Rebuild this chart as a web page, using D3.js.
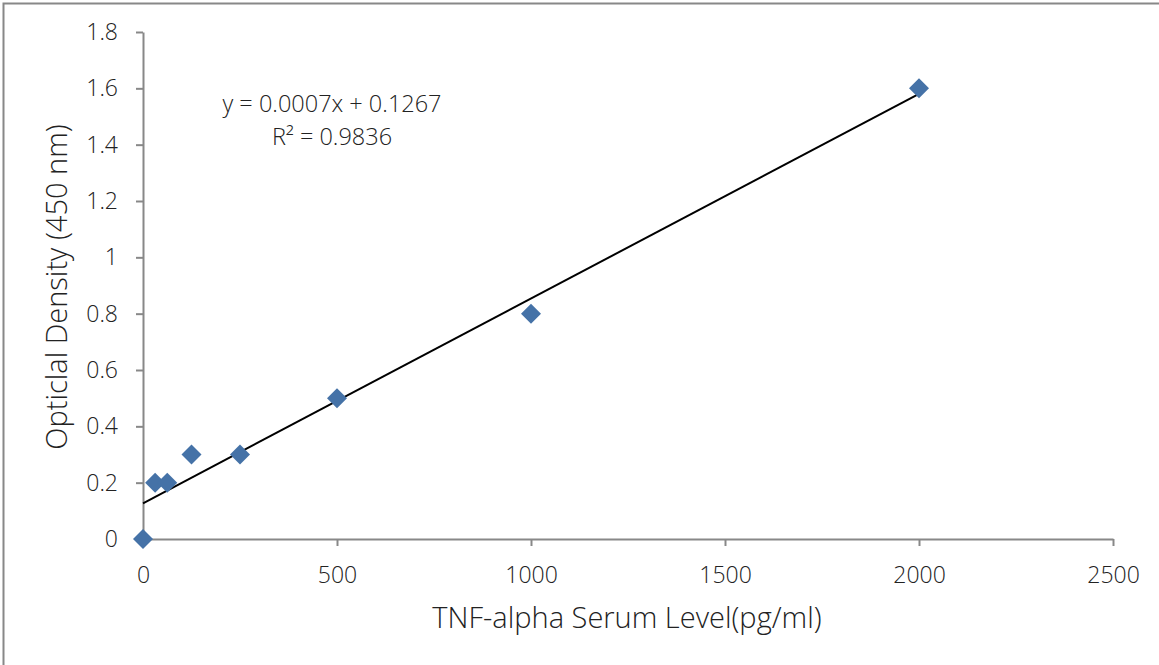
<!DOCTYPE html>
<html>
<head>
<meta charset="utf-8">
<script src="https://cdn.jsdelivr.net/npm/d3@7"></script>
<style>
  body { margin: 0; background: #fff; }
  svg text { font-family: "Open Sans", Lato, sans-serif; font-weight: 300; fill: #222; }
</style>
</head>
<body>
<svg id="chart" width="1159" height="665"></svg>
<script>
// standard curve data
var concentration = [0, 31.25, 62.5, 125, 250, 500, 1000, 2000];
var density = [0, 0.2, 0.2, 0.3, 0.3, 0.5, 0.8, 1.6];
var xTicks = [0, 500, 1000, 1500, 2000, 2500];
var yTicks = [0, 0.2, 0.4, 0.6, 0.8, 1, 1.2, 1.4, 1.6, 1.8];
var trendSlope = 0.000727;
var trendIntercept = 0.1267;
var trendRange = [0, 2000];
var equationLines = ["y = 0.0007x + 0.1267", "R\u00b2 = 0.9836"];

var svg = d3.select("#chart");
var plotLeft = 143, plotRight = 1113, plotTop = 32, plotBottom = 539;

// outer frame (only top/left visible)
svg.append("rect")
  .attr("x", 3.5).attr("y", 3.5)
  .attr("width", 1200).attr("height", 700)
  .attr("fill", "none").attr("stroke", "#888").attr("stroke-width", 2);

var x = d3.scaleLinear().domain([0, 2500]).range([plotLeft, plotRight]);
var y = d3.scaleLinear().domain([0, 1.8]).range([plotBottom, plotTop]);

var xAxis = svg.append("g")
  .attr("transform", "translate(0," + plotBottom + ")")
  .call(d3.axisBottom(x).tickValues(xTicks).tickSize(7).tickSizeOuter(0).tickPadding(21)
    .tickFormat(d3.format("d")));

var yAxis = svg.append("g")
  .attr("transform", "translate(" + plotLeft + ",0)")
  .call(d3.axisLeft(y).tickValues(yTicks).tickSize(7).tickSizeOuter(0).tickPadding(18)
    .tickFormat(function(d){ return String(+d.toFixed(1)); }));

[xAxis, yAxis].forEach(function(a){
  a.selectAll("path, line").attr("stroke", "#888").attr("stroke-width", 2);
  a.selectAll("text").style("font-size", "23px").attr("fill", "#222");
});

// trendline
svg.append("line")
  .attr("x1", x(trendRange[0])).attr("y1", y(trendIntercept + trendSlope*trendRange[0]))
  .attr("x2", x(trendRange[1])).attr("y2", y(trendIntercept + trendSlope*trendRange[1]))
  .attr("stroke", "#000").attr("stroke-width", 2);

// points
var pts = concentration.map(function(c, i){ return {x: c, y: density[i]}; });
svg.selectAll(".pt")
  .data(pts)
  .enter()
  .append("path")
    .attr("class", "pt")
    .attr("d", d3.symbol().type(d3.symbolSquare).size(200))
    .attr("transform", function(d){ return "translate(" + x(d.x) + "," + y(d.y) + ") rotate(45)"; })
    .attr("fill", "#4572A7");

// equation label
svg.selectAll(".eq")
  .data(equationLines)
  .enter()
  .append("text")
    .attr("class", "eq")
    .attr("x", 332)
    .attr("y", function(d, i){ return 112 + i*33; })
    .attr("text-anchor", "middle")
    .style("font-size", "23.5px")
    .text(function(d){ return d; });

// axis titles
svg.append("text")
  .attr("x", 627).attr("y", 628)
  .attr("text-anchor", "middle")
  .style("font-size", "29px")
  .text("TNF-alpha Serum Level(pg/ml)");

svg.append("text")
  .attr("transform", "translate(67,287) rotate(-90)")
  .attr("text-anchor", "middle")
  .style("font-size", "29px")
  .text("Opticlal Density (450 nm)");
</script>
</body>
</html>
